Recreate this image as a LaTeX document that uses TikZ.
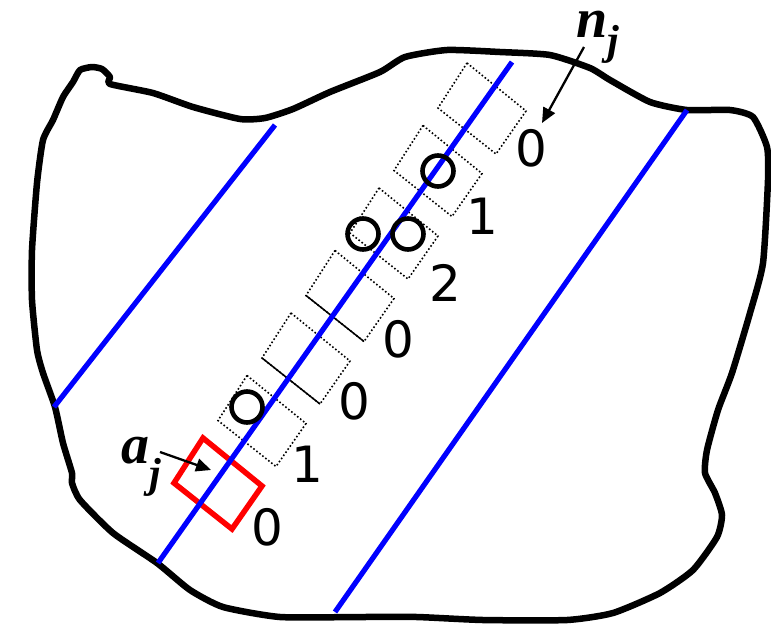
\documentclass[tikz,border=0pt]{standalone}
\usepackage{fontspec}
\newfontfamily\digitfont{DejaVu Sans}
\newfontfamily\labfont{Liberation Serif}
\usetikzlibrary{calc,arrows.meta}
\begin{document}
\begin{tikzpicture}[x=1pt,y=-1pt,
 outline/.style={line width=6.5pt, line join=round},
 blueline/.style={blue, line width=5.2pt},
 dotbox/.style={line width=1.6pt, dash pattern=on 1.6pt off 2.2pt},
 solidedge/.style={line width=1.5pt},
 redbox/.style={red, line width=5.5pt, line join=miter},
 ring/.style={circle, draw, line width=4.6pt, minimum size=31pt, inner sep=0pt},
 count/.style={font=\digitfont\fontsize{50}{50}\selectfont, inner sep=0pt},
 lab/.style={font=\labfont\bfseries\itshape\fontsize{56}{56}\selectfont, inner sep=0pt, anchor=base west, text height=28pt},
 pointer/.style={line width=2.3pt, -{Triangle[length=15pt,width=13pt]}},
]
\useasboundingbox (0,0) rectangle (771,625);

% outline
\draw[outline] plot[smooth cycle, tension=0.35] coordinates {
 (80,70) (92,67) (102,69) (110,77) (110,84) (153,93) (193,107) (240,119)
 (265,118) (293,109) (330,92) (380,72) (405,57) (447,50) (500,52) (550,55)
 (590,68) (610,80) (650,102) (687,110) (730,110) (753,117) (767,147)
 (768,180) (763,263) (750,313) (732,373) (718,410) (707,450) (705,473)
 (715,493) (722,515) (717,537) (693,570) (660,593) (613,613) (567,620)
 (483,620) (417,617) (360,617) (280,617) (223,607) (190,590) (157,563)
 (113,533) (80,500) (72,483) (72,473) (63,443) (55,407) (43,373) (37,350)
 (32,300) (32,250) (37,183) (43,140) (53,120) (63,97) (73,82)};

% dotted cells
\foreach \k in {0,...,5}{
 \draw[dotbox] ($(467,63)+\k*(-44,62.5)$) -- ++(59,48) -- ++(-30,43) -- ++(-58,-46) -- cycle;
}
\draw[solidedge] (306,295.5) -- (364,341.5);
\draw[solidedge] (262,358) -- (320,404);
% red cell
\draw[redbox] (203,438) -- ++(59,48) -- ++(-30,43) -- ++(-58,-46) -- cycle;

% blue lines
\coordinate (b1a) at (275,125); \coordinate (b1b) at (54,407);
\coordinate (b2a) at (512,62);  \coordinate (b2b) at (158,563);
\coordinate (b3a) at (687,110); \coordinate (b3b) at (335,612);
\draw[blueline] (b1a) -- (b1b);
\draw[blueline] (b2a) -- (b2b);
\draw[blueline] (b3a) -- (b3b);

% rings
\node[ring] (c1) at (438,171) {};
\node[ring] (c2) at (363,234) {};
\node[ring] (c3) at (408,234) {};
\node[ring] (c4) at (247,407) {};

% counts
\node[count] (k1) at (531,148) {0};
\node[count] (k2) at (482,216) {1};
\node[count] (k3) at (445,283) {2};
\node[count] (k4) at (398,339) {0};
\node[count] (k5) at (354,401) {0};
\node[count] (k6) at (307,464) {1};
\node[count] (k7) at (267,527) {0};

% labels
\node[lab] (nj) at (576,37) {n\raisebox{-17pt}{\fontsize{42}{42}\selectfont j}};
\node[lab] (aj) at (121,463) {a\raisebox{-24pt}{\fontsize{42}{42}\selectfont j}};

\coordinate (njt) at (584,47); \coordinate (njh) at (542,123);
\coordinate (ajt) at (160,452); \coordinate (ajh) at (211,470);
\draw[pointer] (njt) -- (njh);
\draw[pointer] (ajt) -- (ajh);
\end{tikzpicture}
\end{document}
